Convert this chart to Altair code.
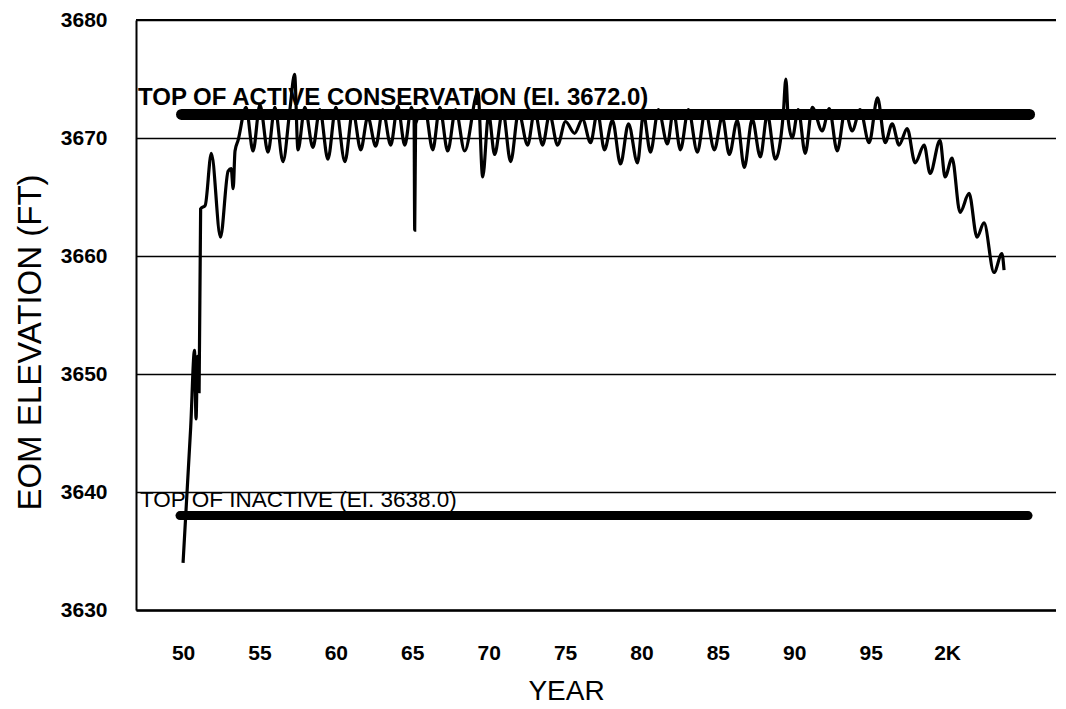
import altair as alt
import pandas as pd

# ---- data ----
years = [50.0, 50.5, 50.75, 50.85, 50.95, 51.05, 51.15, 51.45, 51.85, 52.45, 52.95, 53.15, 53.28, 53.4, 53.6,
         54.12, 54.58, 55.03, 55.56, 56.01, 56.54, 56.99, 57.3, 57.52, 57.97, 58.5, 58.95, 59.48, 60.0,
         60.59, 61.11, 61.63, 62.09, 62.61, 63.07, 63.59, 64.05, 64.51, 64.95, 65.12, 65.16, 65.22, 65.82,
         66.34, 66.8, 67.32, 67.84, 68.43, 69.3, 69.61, 70.0, 70.39, 70.92, 71.44, 71.96, 72.55, 73.01,
         73.53, 73.99, 74.51, 75.03, 75.62, 76.14, 76.67, 77.12, 77.58, 78.1, 78.63, 79.15, 79.74, 80.13,
         80.59, 81.11, 81.7, 82.09, 82.55, 83.07, 83.66, 84.18, 84.77, 85.29, 85.75, 86.27, 86.73, 87.25,
         87.78, 88.24, 88.76, 89.28, 89.45, 89.61, 89.87, 90.26, 90.72, 91.18, 91.83, 92.29, 92.81, 93.33,
         93.79, 94.31, 94.9, 95.45, 95.95, 96.41, 96.86, 97.39, 97.91, 98.5, 98.89, 99.54, 99.87, 100.33,
         100.85, 101.44, 101.96, 102.42, 103.07, 103.59, 103.73]
elevation = [3634.0, 3645.5, 3652.0, 3646.2, 3651.5, 3648.5, 3664.0, 3664.3, 3668.7, 3661.6, 3667.2, 3667.4, 3665.7, 3668.9, 3669.8,
             3672.6, 3668.9, 3672.8, 3668.8, 3672.6, 3668.0, 3672.4, 3675.4, 3669.0, 3672.6, 3669.2, 3672.4, 3668.2, 3672.6,
             3668.0, 3672.3, 3669.0, 3671.8, 3669.3, 3672.4, 3669.4, 3672.7, 3669.4, 3672.6, 3671.5, 3662.2, 3671.2, 3672.5,
             3669.0, 3672.6, 3668.9, 3672.4, 3668.9, 3673.9, 3666.7, 3672.0, 3668.6, 3672.3, 3668.0, 3672.2, 3669.4, 3672.3,
             3669.4, 3672.0, 3669.4, 3671.4, 3670.4, 3671.6, 3669.6, 3672.2, 3669.0, 3671.5, 3667.8, 3671.2, 3667.9, 3672.0,
             3668.8, 3672.4, 3669.5, 3672.3, 3669.0, 3672.4, 3668.8, 3672.3, 3669.0, 3671.8, 3668.6, 3671.5, 3667.5, 3671.6,
             3668.4, 3672.0, 3668.2, 3672.0, 3675.0, 3671.5, 3670.0, 3672.4, 3668.7, 3672.6, 3670.6, 3672.5, 3668.9, 3672.3,
             3670.6, 3672.4, 3669.6, 3673.4, 3669.6, 3671.2, 3669.4, 3670.8, 3667.9, 3669.4, 3667.0, 3669.8, 3666.7, 3668.3,
             3663.7, 3665.3, 3661.6, 3662.8, 3658.6, 3660.2, 3658.8]

ref_levels = [3672.0, 3638.0]
ref_start = [49.9, 49.8]
ref_end = [105.4, 105.3]

ann_text = ["TOP OF ACTIVE CONSERVATION (EI. 3672.0)", "TOP OF INACTIVE (EI. 3638.0)"]
ann_x = [47.05, 47.18]
ann_y = [3672.8, 3638.7]

x_ticks = [50, 55, 60, 65, 70, 75, 80, 85, 90, 95, 100]
x_tick_labels = ["50", "55", "60", "65", "70", "75", "80", "85", "90", "95", "2K"]
y_ticks = [3630, 3640, 3650, 3660, 3670, 3680]

x_domain = [46.92, 107.13]
y_domain = [3630, 3680]

# ---- build ----
W, H = 920, 590
FONT = "Liberation Sans"

series = pd.DataFrame({"year": years, "elev": elevation})
refs = pd.DataFrame({"lvl": ref_levels, "x0": ref_start, "x1": ref_end})
anns = pd.DataFrame({"t": ann_text, "x": ann_x, "y": ann_y})

expr = "''"
for v, lab in reversed(list(zip(x_ticks, x_tick_labels))):
    expr = f"datum.value == {v} ? '{lab}' : ({expr})"

xscale = alt.Scale(domain=x_domain, nice=False, zero=False)
yscale = alt.Scale(domain=y_domain, nice=False, zero=False)

xaxis = alt.Axis(values=x_ticks, labelExpr=expr, ticks=False, grid=False,
                 domain=True, domainColor="black", domainWidth=2.5,
                 labelFont=FONT, labelFontSize=21, labelFontWeight="bold", labelColor="black",
                 labelPadding=32, title="YEAR", titleFont=FONT, titleFontSize=28,
                 titleFontWeight="normal", titleColor="black", titleX=430, titleY=89,
                 titleBaseline="alphabetic", titleAlign="center")
yaxis = alt.Axis(values=y_ticks, format="d", ticks=False, grid=True, gridColor="black",
                 gridWidth=1.3, gridOpacity=1, domain=True, domainColor="black", domainWidth=2,
                 labelFont=FONT, labelFontSize=21, labelFontWeight="bold", labelColor="black",
                 labelPadding=29, title="EOM ELEVATION (FT)", titleFont=FONT, titleFontSize=33,
                 titleFontWeight="normal", titleColor="black", titleX=-106, titleY=322,
                 titleAngle=270, titleBaseline="middle", titleAlign="center")

line = alt.Chart(series).mark_line(color="black", strokeWidth=3.2, interpolate="monotone").encode(
    x=alt.X("year:Q", scale=xscale, axis=xaxis),
    y=alt.Y("elev:Q", scale=yscale, axis=yaxis),
)

active_bar = alt.Chart(refs.iloc[[0]]).mark_rule(color="black", strokeWidth=11, strokeCap="round").encode(
    x=alt.X("x0:Q", scale=xscale), x2="x1:Q", y=alt.Y("lvl:Q", scale=yscale))
inactive_bar = alt.Chart(refs.iloc[[1]]).mark_rule(color="black", strokeWidth=9, strokeCap="round").encode(
    x=alt.X("x0:Q", scale=xscale), x2="x1:Q", y=alt.Y("lvl:Q", scale=yscale))

active_txt = alt.Chart(anns.iloc[[0]]).mark_text(align="left", baseline="alphabetic", font=FONT,
                                                 fontSize=24, fontWeight="bold", color="black").encode(
    x=alt.X("x:Q", scale=xscale), y=alt.Y("y:Q", scale=yscale), text="t:N")
inactive_txt = alt.Chart(anns.iloc[[1]]).mark_text(align="left", baseline="alphabetic", font=FONT,
                                                   fontSize=22.5, fontWeight="normal", color="black").encode(
    x=alt.X("x:Q", scale=xscale), y=alt.Y("y:Q", scale=yscale), text="t:N")

top_border = alt.Chart(series).mark_rule(color="black", strokeWidth=2).encode(
    y=alt.datum(y_domain[1], scale=yscale), x=alt.value(0), x2=alt.value(W))

chart = alt.layer(active_bar, inactive_bar, line, active_txt, inactive_txt, top_border).properties(
    width=W, height=H,
    autosize=alt.AutoSizeParams(type="none"),
    padding={"left": 128, "top": 12, "right": 0, "bottom": 98},
    background="white",
).configure_view(strokeWidth=0)

chart.save("out.html", embed_options={"renderer": "svg", "actions": False})
